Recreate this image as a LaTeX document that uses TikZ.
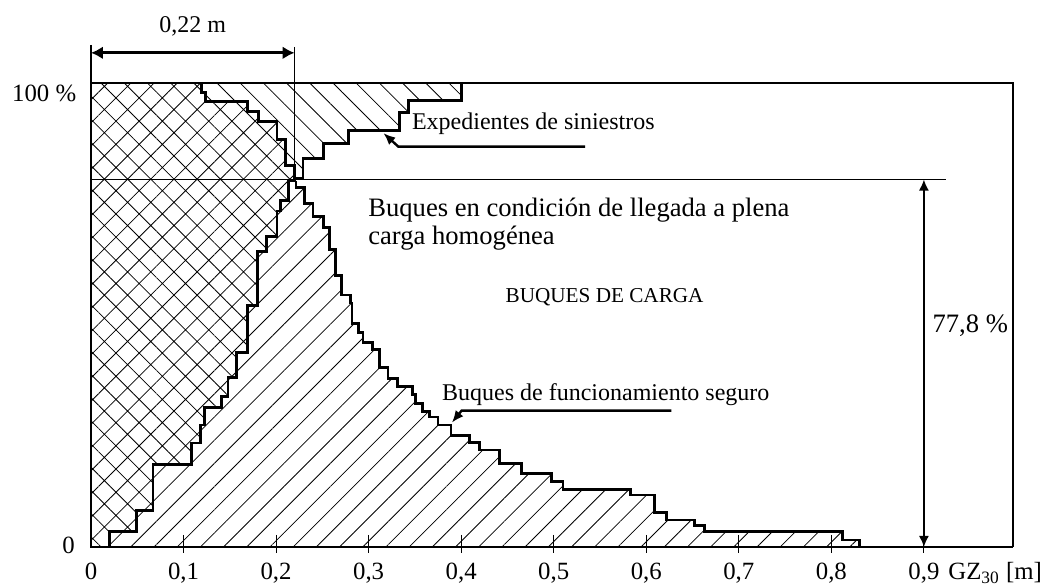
\documentclass[tikz,border=0pt]{standalone}
\usepackage{fontspec}
\setmainfont{Liberation Serif}
\usetikzlibrary{arrows.meta,patterns.meta}

\tikzset{
    bigtext/.style={font=\fontsize{13.3}{14.2}\selectfont, inner sep=0pt},
    smalltext/.style={font=\fontsize{12}{14}\selectfont, inner sep=0pt},
    ticktext/.style={font=\fontsize{12.4}{14}\selectfont, inner sep=0pt, anchor=base},
    stepline/.style={line width=1.4pt},
    thinline/.style={line width=0.5pt},
    crossfill/.style={pattern={Hatch[angle=45,distance=8.2pt,line width=0.4pt]}},
    downfill/.style={pattern={Lines[angle=-45,distance=8.2pt,line width=0.4pt]}},
    upfill/.style={pattern={Lines[angle=45,distance=8.2pt,line width=0.4pt]}},
    dimarrow/.style={line width=1.4pt, {Latex[length=6pt,width=6.5pt]}-{Latex[length=6pt,width=6.5pt]}},
    heightarrow/.style={line width=0.9pt, {Latex[length=5.5pt,width=5pt]}-{Latex[length=5.5pt,width=5pt]}},
    leader/.style={line width=1.2pt, -{Latex[length=6pt,width=5pt]}}
}

% step curves, x in m and y in %
\newcommand{\edgeLow}{-| (0.020,3.4) -| (0.049,7.8) -| (0.067,17.8) -| (0.109,22.4) -| (0.118,26.3) -| (0.123,30.0) -| (0.141,32.5) -| (0.148,36.5) -| (0.157,42.0) -| (0.169,52.0) -| (0.180,63.6) -| (0.190,67.0) -| (0.201,72.4) -| (0.205,74.6) -| (0.213,78.9) -- (0.2215,78.9)}
\newcommand{\edgeUp}{|- (0.124,97.9) |- (0.169,96.0) |- (0.181,93.8) |- (0.201,91.7) |- (0.210,87.9) |- (0.220,82.2) |- (0.2215,79.5)}
\newcommand{\curveExp}{-| (0.229,83.8) -| (0.251,86.9) -| (0.278,89.8) -| (0.333,93.7) -| (0.343,96.3) -| (0.400,100)}
\newcommand{\curveSafe}{|- (0.231,77.5) |- (0.240,74.1) |- (0.251,71.2) |- (0.258,68.8) |- (0.264,64.1) |- (0.271,58.5) |- (0.280,54.3) |- (0.282,52.6) |- (0.289,48.2) |- (0.294,46.2) |- (0.304,44.0) |- (0.312,42.6) |- (0.321,38.7) |- (0.331,36.4) |- (0.347,34.6) |- (0.351,32.8) |- (0.358,31.0) |- (0.366,29.2) |- (0.375,28.0) |- (0.389,26.3) |- (0.409,24.1) |- (0.420,22.6) |- (0.441,20.9) |- (0.465,18.0) |- (0.498,15.9) |- (0.510,14.1) |- (0.583,12.4) |- (0.609,11.2) |- (0.622,7.4) |- (0.652,5.8) |- (0.663,4.7) |- (0.812,3.3) |- (0.830,1.5) |- (0.830,0)}

\begin{document}
\begin{tikzpicture}[x=462.75pt,y=2.32pt]
    \useasboundingbox (-0.0983,-8.19) rectangle (1.033,117.89);

    % hatched areas
    \fill[crossfill] (0,0) \edgeLow \curveExp -- (0,100) -- cycle;
    \fill[white] (0.119,100) \edgeUp \curveExp -- cycle;
    \fill[downfill] (0.119,100) \edgeUp \curveExp -- cycle;
    \fill[upfill] (0,0) \edgeLow \curveSafe -- cycle;

    % frame and axis
    \draw[line width=0.8pt] (0,108.2) -- (0,0) -- (0.83,0);
    \draw[stepline] (0,100) -- (0.9,100);
    \draw[line width=0.8pt] (0.9,100) -- (0.996,100) -- (0.996,0);
    \draw[stepline] (0.83,0) -- (0.996,0);
    \draw[thinline] (0,79.2) -- (0.924,79.2);
    \draw[thinline] (0.22,107.8) -- (0.22,79.2);

    % curves
    \draw[stepline] (0,0) \edgeLow;
    \draw[stepline] (0.119,100) \edgeUp;
    \draw[stepline] (0.2215,79.5) \curveExp;
    \draw[stepline] (0.2215,78.9) \curveSafe;

    % ticks
    \draw[thinline] (0.1,2.6) -- (0.1,-1.3);
    \draw[thinline] (0.2,2.6) -- (0.2,-1.3);
    \draw[thinline] (0.3,2.6) -- (0.3,-1.3);
    \draw[thinline] (0.4,2.6) -- (0.4,-1.3);
    \draw[thinline] (0.5,2.6) -- (0.5,-1.3);
    \draw[thinline] (0.6,2.6) -- (0.6,-1.3);
    \draw[thinline] (0.7,2.6) -- (0.7,-1.3);
    \draw[thinline] (0.8,2.6) -- (0.8,-1.3);
    \draw[thinline] (0.9,2.6) -- (0.9,-1.3);

    \node[ticktext] (x0) at (0,-7.1) {0};
    \node[ticktext] (x1) at (0.1,-7.1) {0,1};
    \node[ticktext] (x2) at (0.2,-7.1) {0,2};
    \node[ticktext] (x3) at (0.3,-7.1) {0,3};
    \node[ticktext] (x4) at (0.4,-7.1) {0,4};
    \node[ticktext] (x5) at (0.5,-7.1) {0,5};
    \node[ticktext] (x6) at (0.6,-7.1) {0,6};
    \node[ticktext] (x7) at (0.7,-7.1) {0,7};
    \node[ticktext] (x8) at (0.8,-7.1) {0,8};
    \node[ticktext] (x9) at (0.9,-7.1) {0,9};
    \node[ticktext, anchor=base west] (gz) at (0.926,-7.1) {GZ\textsubscript{30} [m]};

    \node[ticktext, anchor=east] (yzero) at (-0.017,0.3) {0};
    \node[ticktext, anchor=east] (yfull) at (-0.0155,97.8) {100 \%};

    % dimensions
    \coordinate (widthL) at (0,106.5);
    \coordinate (widthR) at (0.22,106.5);
    \draw[dimarrow] (widthL) -- (widthR);
    \node[smalltext, anchor=base] (widthlabel) at (0.11,110.8) {0,22 m};

    \coordinate (shareTop) at (0.9,79.2);
    \coordinate (shareBot) at (0.9,0);
    \draw[heightarrow] (shareTop) -- (shareBot);
    \node[bigtext, anchor=west] (sharelabel) at (0.909,47.8) {77,8 \%};

    % labels
    \node[bigtext, align=left, anchor=base west] (llegada) at (0.2993,65.1) {Buques en condición de llegada a plena\\carga homogénea};
    \node[bigtext, font=\fontsize{10.6}{12}\selectfont] (carga) at (0.555,53.9) {BUQUES DE CARGA};

    \node[smalltext, anchor=base west] (expedientes) at (0.3465,89.9) {Expedientes de siniestros};
    \coordinate (expEnd) at (0.534,86.3);
    \coordinate (expBend) at (0.332,86.3);
    \coordinate (expTip) at (0.316,89.2);
    \draw[leader] (expEnd) -- (expBend) -- (expTip);

    \node[smalltext, anchor=base west] (seguro) at (0.379,31.5) {Buques de funcionamiento seguro};
    \coordinate (safeEnd) at (0.627,29.4);
    \coordinate (safeBend) at (0.4005,29.4);
    \coordinate (safeTip) at (0.390,26.8);
    \draw[leader] (safeEnd) -- (safeBend) -- (safeTip);
\end{tikzpicture}
\end{document}
